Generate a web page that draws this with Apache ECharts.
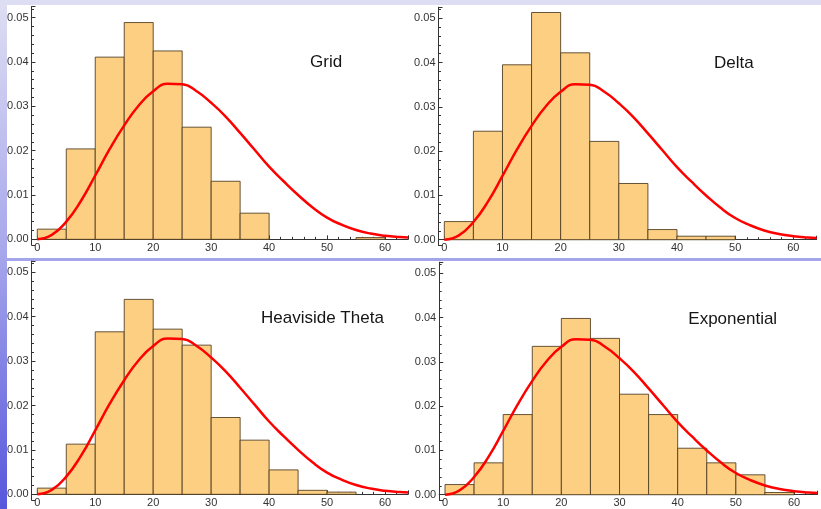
<!DOCTYPE html>
<html>
<head>
<meta charset="utf-8">
<title>Histograms</title>
<script src="https://cdn.jsdelivr.net/npm/echarts@6/dist/echarts.min.js"></script>
<style>
  html, body { margin: 0; padding: 0; }
  #chart {
    width: 821px;
    height: 509px;
    background: linear-gradient(to bottom, #dedef3 0%, #a6a6ec 50%, #5656dc 100%);
  }
</style>
</head>
<body>
<div id="chart"></div>
<script>
  // bin edges, width 5
  let binEdges = [0, 5, 10, 15, 20, 25, 30, 35, 40, 45, 50, 55, 60];

  let gridVals = [0.0023, 0.0204, 0.0411, 0.0489, 0.0425, 0.0253, 0.0131, 0.0059, 0, 0, 0, 0.0004];
  let deltaVals = [0.0041, 0.0245, 0.0395, 0.0513, 0.0422, 0.0222, 0.0127, 0.0023, 0.0008, 0.0008, 0, 0];
  let heavisideVals = [0.0014, 0.0113, 0.0366, 0.0439, 0.0372, 0.0336, 0.0173, 0.0122, 0.0055, 0.0009, 0.0005, 0];
  let exponentialVals = [0.0023, 0.0072, 0.0181, 0.0335, 0.0398, 0.0353, 0.0227, 0.0181, 0.0105, 0.0072, 0.0045, 0.0005];

  // red density curve, every 2.5
  let curveX = [0, 2.5, 5, 7.5, 10, 12.5, 15, 17.5, 20, 22.5, 25, 27.5, 30, 32.5, 35, 37.5, 40, 42.5, 45, 47.5, 50, 52.5, 55, 57.5, 60, 62.5, 64];
  let curveY = [0, 0.0010, 0.0040, 0.0086, 0.0144, 0.0204, 0.0257, 0.0302, 0.0334, 0.0351, 0.0350, 0.0334, 0.0308, 0.0277, 0.0240, 0.0202, 0.0164, 0.0131, 0.0100, 0.0072, 0.0049, 0.0033, 0.0021, 0.0013, 0.0008, 0.0005, 0.0004];

  let panelNames = ['Grid', 'Delta', 'Heaviside Theta', 'Exponential'];
  let panelVals = [gridVals, deltaVals, heavisideVals, exponentialVals];

  let FONT = '"Liberation Sans", Arial, sans-serif';

  // grid boxes (px)
  let grids = [
    { left: 31.5, top: 6.6, width: 376.7, height: 238.5 },
    { left: 438.5, top: 7.2, width: 378.1, height: 238.3 },
    { left: 31.5, top: 261.2, width: 376.7, height: 238.9 },
    { left: 439.2, top: 262.2, width: 378.1, height: 238.3 }
  ];
  let titlePos = [[310, 62.7], [714, 63.3], [261, 318.3], [688.3, 319]];

  let myChart = echarts.init(document.getElementById('chart'), null, { renderer: 'canvas' });

  let xAxes = [], yAxes = [], series = [], texts = [];
  grids.forEach(function (g, i) {
    g.outerBoundsMode = 'none';
    g.containLabel = false;
    xAxes.push({
      gridIndex: i,
      type: 'value',
      min: -1,
      max: 64,
      splitNumber: 5,
      axisLine: { onZero: true, lineStyle: { color: '#333', width: 1 } },
      axisTick: { inside: true, length: 4, lineStyle: { color: '#333' } },
      minorTick: { show: true, splitNumber: 5, length: 2.5, lineStyle: { color: '#333' } },
      splitLine: { show: false },
      axisLabel: {
        showMinLabel: false,
        showMaxLabel: false,
        margin: -3,
        color: '#333',
        fontSize: 11,
        fontFamily: FONT
      }
    });
    yAxes.push({
      gridIndex: i,
      type: 'value',
      min: -0.0013,
      max: 0.0525,
      splitNumber: 5,
      axisLine: { show: true, onZero: false, lineStyle: { color: '#333', width: 1 } },
      axisTick: { show: true, inside: true, length: 4, lineStyle: { color: '#333' } },
      minorTick: { show: true, splitNumber: 5, length: 2.5, lineStyle: { color: '#333' } },
      splitLine: { show: false },
      axisLabel: {
        showMinLabel: false,
        showMaxLabel: false,
        margin: 3,
        color: '#333',
        fontSize: 11,
        fontFamily: FONT,
        formatter: function (v) { return v.toFixed(2); }
      }
    });

    let bars = [];
    panelVals[i].forEach(function (v, k) {
      if (v > 0) bars.push([binEdges[k], binEdges[k + 1], v]);
    });
    series.push({
      type: 'custom',
      xAxisIndex: i,
      yAxisIndex: i,
      z: 2,
      encode: { x: [0, 1], y: 2 },
      data: bars,
      renderItem: function (params, api) {
        let p0 = api.coord([api.value(0), api.value(2)]);
        let p1 = api.coord([api.value(1), 0]);
        return {
          type: 'rect',
          shape: { x: p0[0], y: p0[1], width: p1[0] - p0[0], height: p1[1] - p0[1] },
          style: { fill: '#fdcf83', stroke: 'rgba(75,58,30,0.85)', lineWidth: 1 }
        };
      }
    });
    series.push({
      type: 'line',
      xAxisIndex: i,
      yAxisIndex: i,
      z: 5,
      smooth: 0.5,
      symbol: 'none',
      silent: true,
      lineStyle: { color: '#ff0000', width: 2.5 },
      data: curveX.map(function (x, k) { return [x, curveY[k]]; })
    });

    texts.push({
      type: 'text',
      z: 10,
      x: titlePos[i][0],
      y: titlePos[i][1],
      style: {
        text: panelNames[i],
        fill: '#151515',
        font: '17px ' + FONT,
        verticalAlign: 'middle',
        align: 'left'
      }
    });
  });

  let option = {
    animation: false,
    grid: grids,
    xAxis: xAxes,
    yAxis: yAxes,
    graphic: [
      { type: 'rect', z: -10, shape: { x: 7, y: 5, width: 814, height: 253 }, style: { fill: '#ffffff' } },
      { type: 'rect', z: -10, shape: { x: 7, y: 261, width: 814, height: 248 }, style: { fill: '#ffffff' } }
    ].concat(texts),
    series: series
  };
  myChart.setOption(option);
</script>
</body>
</html>
